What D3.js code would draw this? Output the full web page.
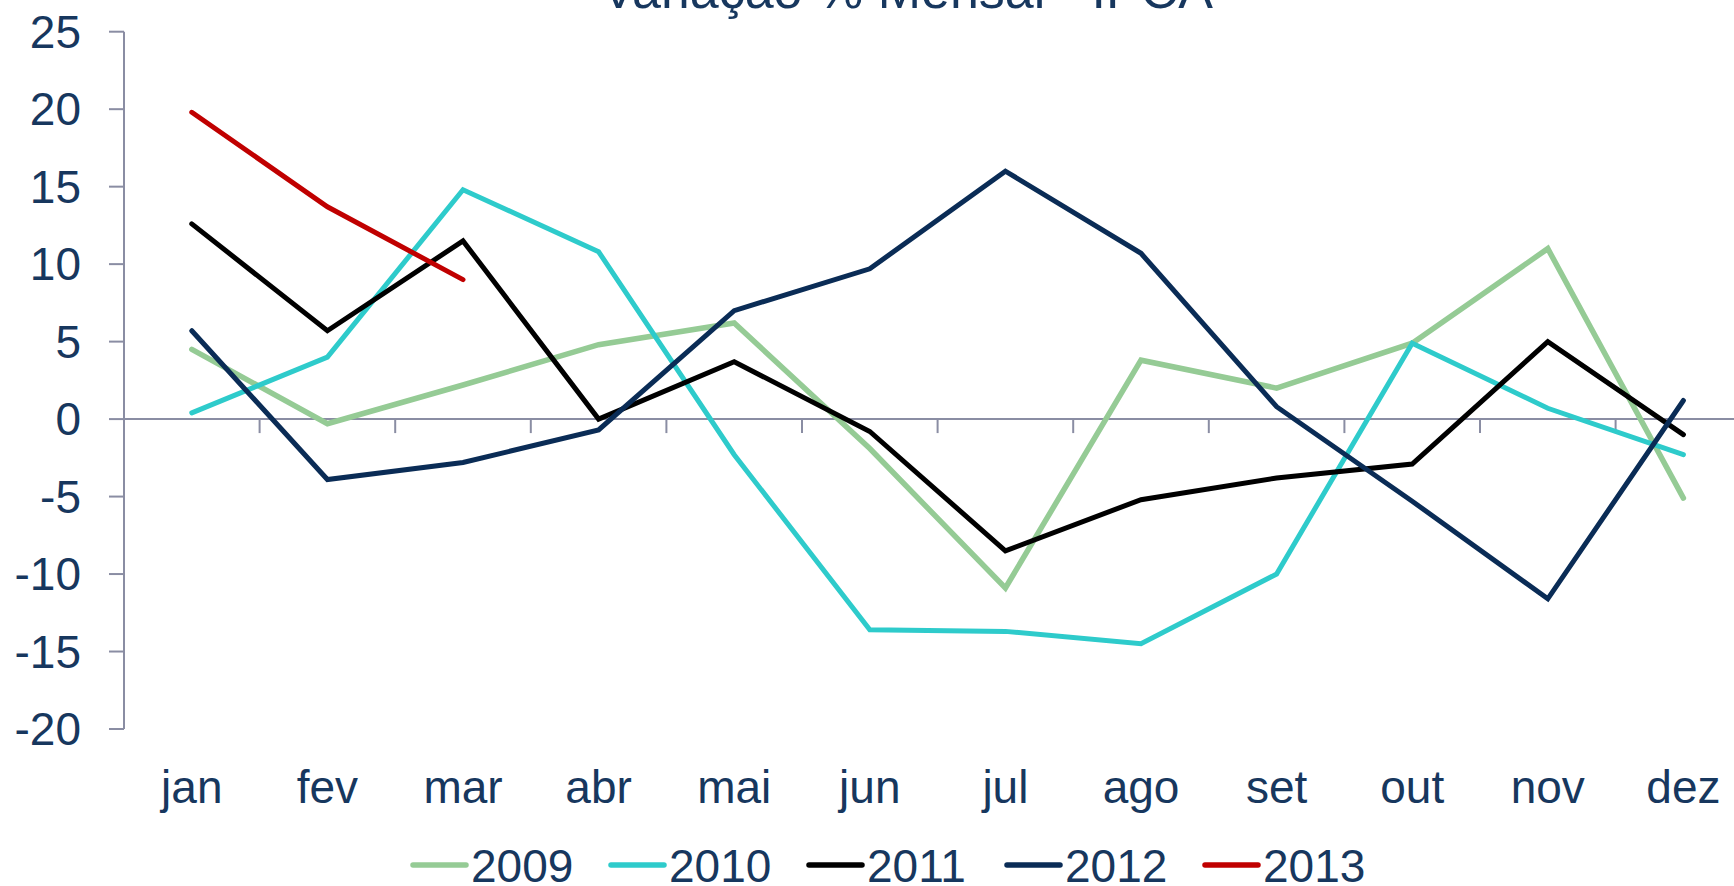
<!DOCTYPE html>
<html>
    <head>
        <meta charset="utf-8">
        <style>
            body { margin: 0; background: white; overflow: hidden; }
            text { font-family: 'Liberation Sans', Arial, sans-serif; fill: #17375E; }
        </style>
    </head>
    <body>
        <div id="chart"></div>
        <script src="https://d3js.org/d3.v7.min.js"></script>
        <script>
            const months = ['jan', 'fev', 'mar', 'abr', 'mai', 'jun', 'jul', 'ago', 'set', 'out', 'nov', 'dez'];
            const yTicks = [25, 20, 15, 10, 5, 0, -5, -10, -15, -20];

            const s2009 = [4.5, -0.3, 2.2, 4.8, 6.2, -1.9, -10.9, 3.8, 2.0, 4.9, 11.0, -5.1];
            const s2010 = [0.4, 4.0, 14.8, 10.8, -2.3, -13.6, -13.7, -14.5, -10.0, 4.9, 0.7, -2.3];
            const s2011 = [12.6, 5.7, 11.5, 0.0, 3.7, -0.8, -8.5, -5.2, -3.8, -2.9, 5.0, -1.0];
            const s2012 = [5.7, -3.9, -2.8, -0.7, 7.0, 9.7, 16.0, 10.7, 0.8, -5.3, -11.6, 1.2];
            const s2013 = [19.8, 13.7, 9.0];

            const seriesNames = ['2009', '2010', '2011', '2012', '2013'];
            const seriesValues = [s2009, s2010, s2011, s2012, s2013];
            const colors = ['#95CB95', '#2ECBCB', '#000000', '#0A2C56', '#C00000'];
            const widths = [5.5, 5, 5, 5, 5];

            const width = 1734;
            const height = 886;
            const axisColor = '#8A8DA3';

            const svg = d3.select('#chart')
                .append('svg')
                .attr('width', width)
                .attr('height', height);

            const x = d3.scaleBand()
                .domain(months)
                .range([124, 124 + 12 * 135.6])
                .padding(0);

            const y = d3.scaleLinear()
                .domain([-20, 25])
                .range([729, 31.7]);

            // title (cut off at the top in the original)
            svg.append('text')
                .attr('x', 907)
                .attr('y', 8)
                .attr('text-anchor', 'middle')
                .style('font-size', '52px')
                .text('Variação % Mensal - IPCA');

            // y axis
            svg.append('line')
                .attr('x1', x.range()[0]).attr('x2', x.range()[0])
                .attr('y1', y(25)).attr('y2', y(-20))
                .attr('stroke', axisColor).attr('stroke-width', 2);

            svg.selectAll('.ytick')
                .data(yTicks)
                .join('line')
                .attr('class', 'ytick')
                .attr('x1', 109).attr('x2', 124)
                .attr('y1', d => y(d)).attr('y2', d => y(d))
                .attr('stroke', axisColor).attr('stroke-width', 2);

            svg.selectAll('.ylabel')
                .data(yTicks)
                .join('text')
                .attr('class', 'ylabel')
                .attr('x', 81)
                .attr('y', d => y(d))
                .attr('dy', '0.35em')
                .attr('text-anchor', 'end')
                .style('font-size', '46px')
                .text(d => d);

            // x axis at zero
            svg.append('line')
                .attr('x1', x.range()[0]).attr('x2', width)
                .attr('y1', y(0)).attr('y2', y(0))
                .attr('stroke', axisColor).attr('stroke-width', 2);

            svg.selectAll('.xtick')
                .data(months.slice(1))
                .join('line')
                .attr('class', 'xtick')
                .attr('x1', d => x(d)).attr('x2', d => x(d))
                .attr('y1', y(0)).attr('y2', y(0) + 14)
                .attr('stroke', axisColor).attr('stroke-width', 2);

            svg.selectAll('.xlabel')
                .data(months)
                .join('text')
                .attr('class', 'xlabel')
                .attr('x', d => x(d) + x.bandwidth() / 2)
                .attr('y', 803)
                .attr('text-anchor', 'middle')
                .style('font-size', '46px')
                .text(d => d);

            // lines
            const line = d3.line()
                .x((d, i) => x(months[i]) + x.bandwidth() / 2)
                .y(d => y(d));

            seriesValues.forEach((vals, k) => {
                svg.append('path')
                    .datum(vals)
                    .attr('fill', 'none')
                    .attr('stroke', colors[k])
                    .attr('stroke-width', widths[k])
                    .attr('stroke-linejoin', 'miter')
                    .attr('stroke-linecap', 'round')
                    .attr('d', line);
            });

            // legend
            const legend = svg.append('g');
            const item = legend.selectAll('g')
                .data(seriesNames)
                .join('g')
                .attr('transform', (d, i) => `translate(${413 + i * 198}, 865)`);

            item.append('line')
                .attr('x1', 0).attr('x2', 53)
                .attr('y1', 0).attr('y2', 0)
                .attr('stroke', (d, i) => colors[i])
                .attr('stroke-width', 5.5)
                .attr('stroke-linecap', 'round');

            item.append('text')
                .attr('x', 58)
                .attr('y', 17)
                .style('font-size', '46px')
                .text(d => d);
        </script>
    </body>
</html>
